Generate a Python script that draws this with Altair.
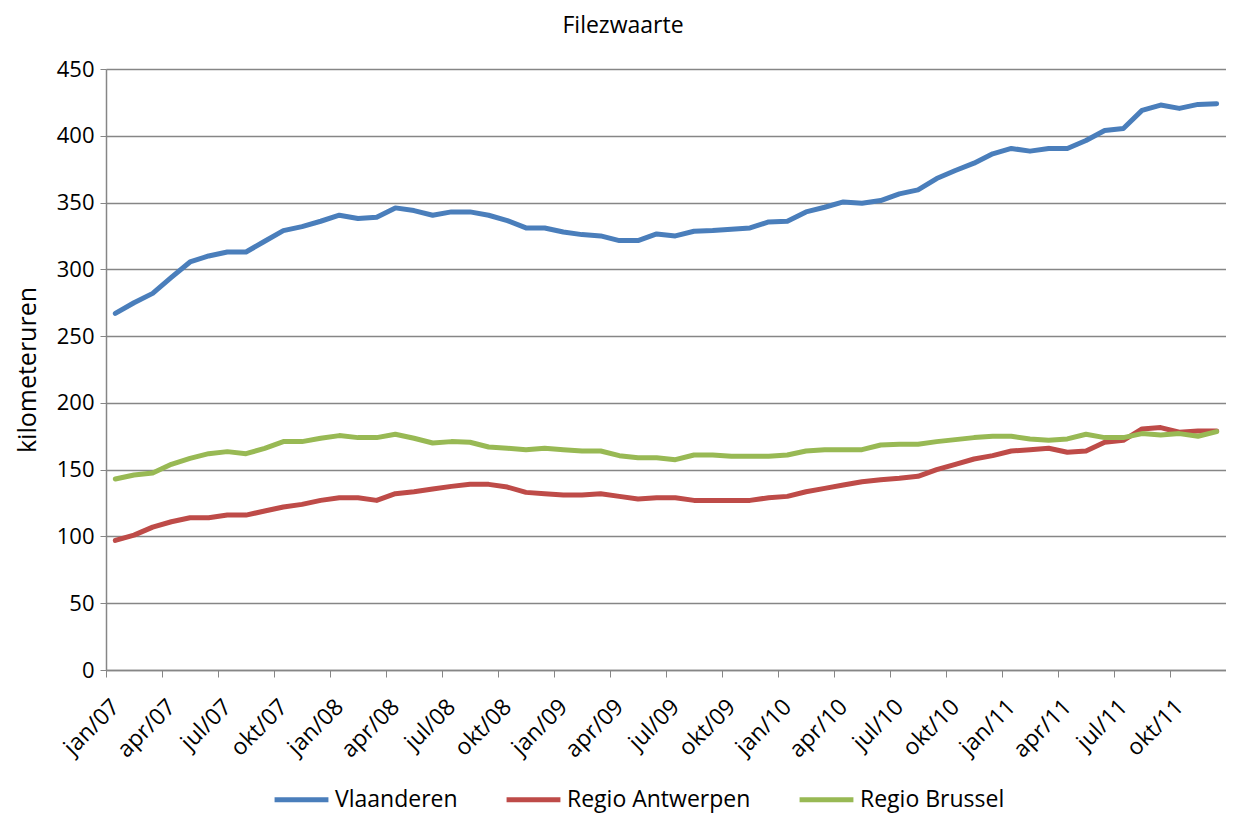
import altair as alt
import pandas as pd

# ---- data ----
tick_labels = ["jan/07", "apr/07", "jul/07", "okt/07",
               "jan/08", "apr/08", "jul/08", "okt/08",
               "jan/09", "apr/09", "jul/09", "okt/09",
               "jan/10", "apr/10", "jul/10", "okt/10",
               "jan/11", "apr/11", "jul/11", "okt/11"]

series_names = ["Vlaanderen", "Regio Antwerpen", "Regio Brussel"]

vlaanderen = [267, 275, 282, 294, 305.5, 310, 313, 313, 321, 329, 332, 336,
              340.5, 338, 339, 346, 344, 340.5, 343, 343, 340.5, 336.5, 331, 331,
              328, 326, 325, 321.5, 321.5, 326.5, 325, 328.5, 329, 330, 331, 335.5,
              336, 343, 346.5, 350.5, 349.5, 351.5, 356.5, 359.5, 368, 374, 379.5, 386.5,
              390.5, 388.5, 390.5, 390.5, 396.5, 404, 405.5, 419, 423, 420.5, 423.5, 424]

antwerpen = [97, 101, 107, 111, 114, 114, 116, 116, 119, 122, 124, 127,
             129, 129, 127, 132, 133.5, 135.5, 137.5, 139, 139, 137, 133, 132,
             131, 131, 132, 130, 128, 129, 129, 127, 127, 127, 127, 129,
             130, 133.5, 136, 138.5, 141, 142.5, 143.5, 145, 150, 154, 158, 160.5,
             164, 165, 166, 163, 164, 170.5, 172, 180.5, 181.5, 178, 179, 179]

brussel = [143, 146, 147.5, 154, 158.5, 162, 163.5, 162, 166, 171, 171, 173.5,
           175.5, 174, 174, 176.5, 173.5, 170, 171, 170.5, 167, 166, 165, 166,
           165, 164, 164, 160.5, 159, 159, 157.5, 161, 161, 160, 160, 160,
           161, 164, 165, 165, 165, 168.5, 169, 169, 171, 172.5, 174, 175,
           175, 173, 172, 173, 176.5, 174, 174, 177, 176, 177, 175, 178.5]

colors = ["#4A7EBB", "#BE4B48", "#98B954"]

rows = []
for name, vals in zip(series_names, [vlaanderen, antwerpen, brussel]):
    for i, v in enumerate(vals):
        rows.append({"serie": name, "maand": i + 0.5, "waarde": v})
df = pd.DataFrame(rows)

FONT = "Open Sans"
W, H = 1120, 601
GRAY = "#868686"
label_js = "[" + ",".join("'%s'" % s for s in tick_labels) + "]"

x_axis = alt.Axis(
    values=list(range(0, 61, 3)),
    labelExpr="datum.value < 60 ? %s[round(datum.value / 3)] : ''" % label_js,
    labelAngle=-45, labelAlign="right", labelBaseline="middle",
    labelOffset=W / 120, labelPadding=26, labelFont=FONT, labelFontSize=23,
    labelColor="black", grid=False, tickSize=7, tickColor=GRAY,
    domainColor=GRAY, domainWidth=1.5, title=None, labelOverlap=False,
    labelBound=False, labelFlush=False,
)

y_axis = alt.Axis(
    values=list(range(0, 451, 50)), grid=True, gridColor=GRAY, gridWidth=1.5,
    tickSize=6, tickColor=GRAY, domainColor=GRAY, domainWidth=1.5,
    labelFont=FONT, labelFontSize=22, labelColor="black", labelPadding=6,
    title="kilometeruren", titleFont=FONT, titleFontSize=25,
    titleFontWeight="normal", titleColor="black", titleAngle=-90,
    titleX=-79, titleY=H / 2, titleAlign="center", titleBaseline="middle",
)

legend = alt.Legend(
    orient="none", direction="horizontal", legendX=166, legendY=701,
    title=None, symbolType="stroke", symbolSize=2900, symbolStrokeWidth=5,
    labelFont=FONT, labelFontSize=23, labelColor="black", labelOffset=4,
    labelLimit=600, columnPadding=38, padding=0,
)

chart = (
    alt.Chart(df)
    .mark_line(strokeWidth=5, strokeCap="round", strokeJoin="round")
    .encode(
        x=alt.X("maand:Q", scale=alt.Scale(domain=[0, 60], nice=False, zero=False), axis=x_axis),
        y=alt.Y("waarde:Q", scale=alt.Scale(domain=[0, 450], nice=False), axis=y_axis),
        color=alt.Color("serie:N", scale=alt.Scale(domain=series_names, range=colors),
                        legend=legend, sort=series_names),
        detail="serie:N",
    )
    .properties(
        width=W, height=H,
        title=alt.TitleParams("Filezwaarte", font=FONT, fontSize=23, fontWeight="normal",
                              color="black", anchor="middle", dx=-43, offset=20),
        autosize=alt.AutoSizeParams(type="none"),
        padding={"left": 98, "top": 61, "right": 0, "bottom": 144},
    )
    .configure_view(stroke=None)
    .configure(background="white")
)

chart.save("out.html", embed_options={"renderer": "svg", "actions": False})
